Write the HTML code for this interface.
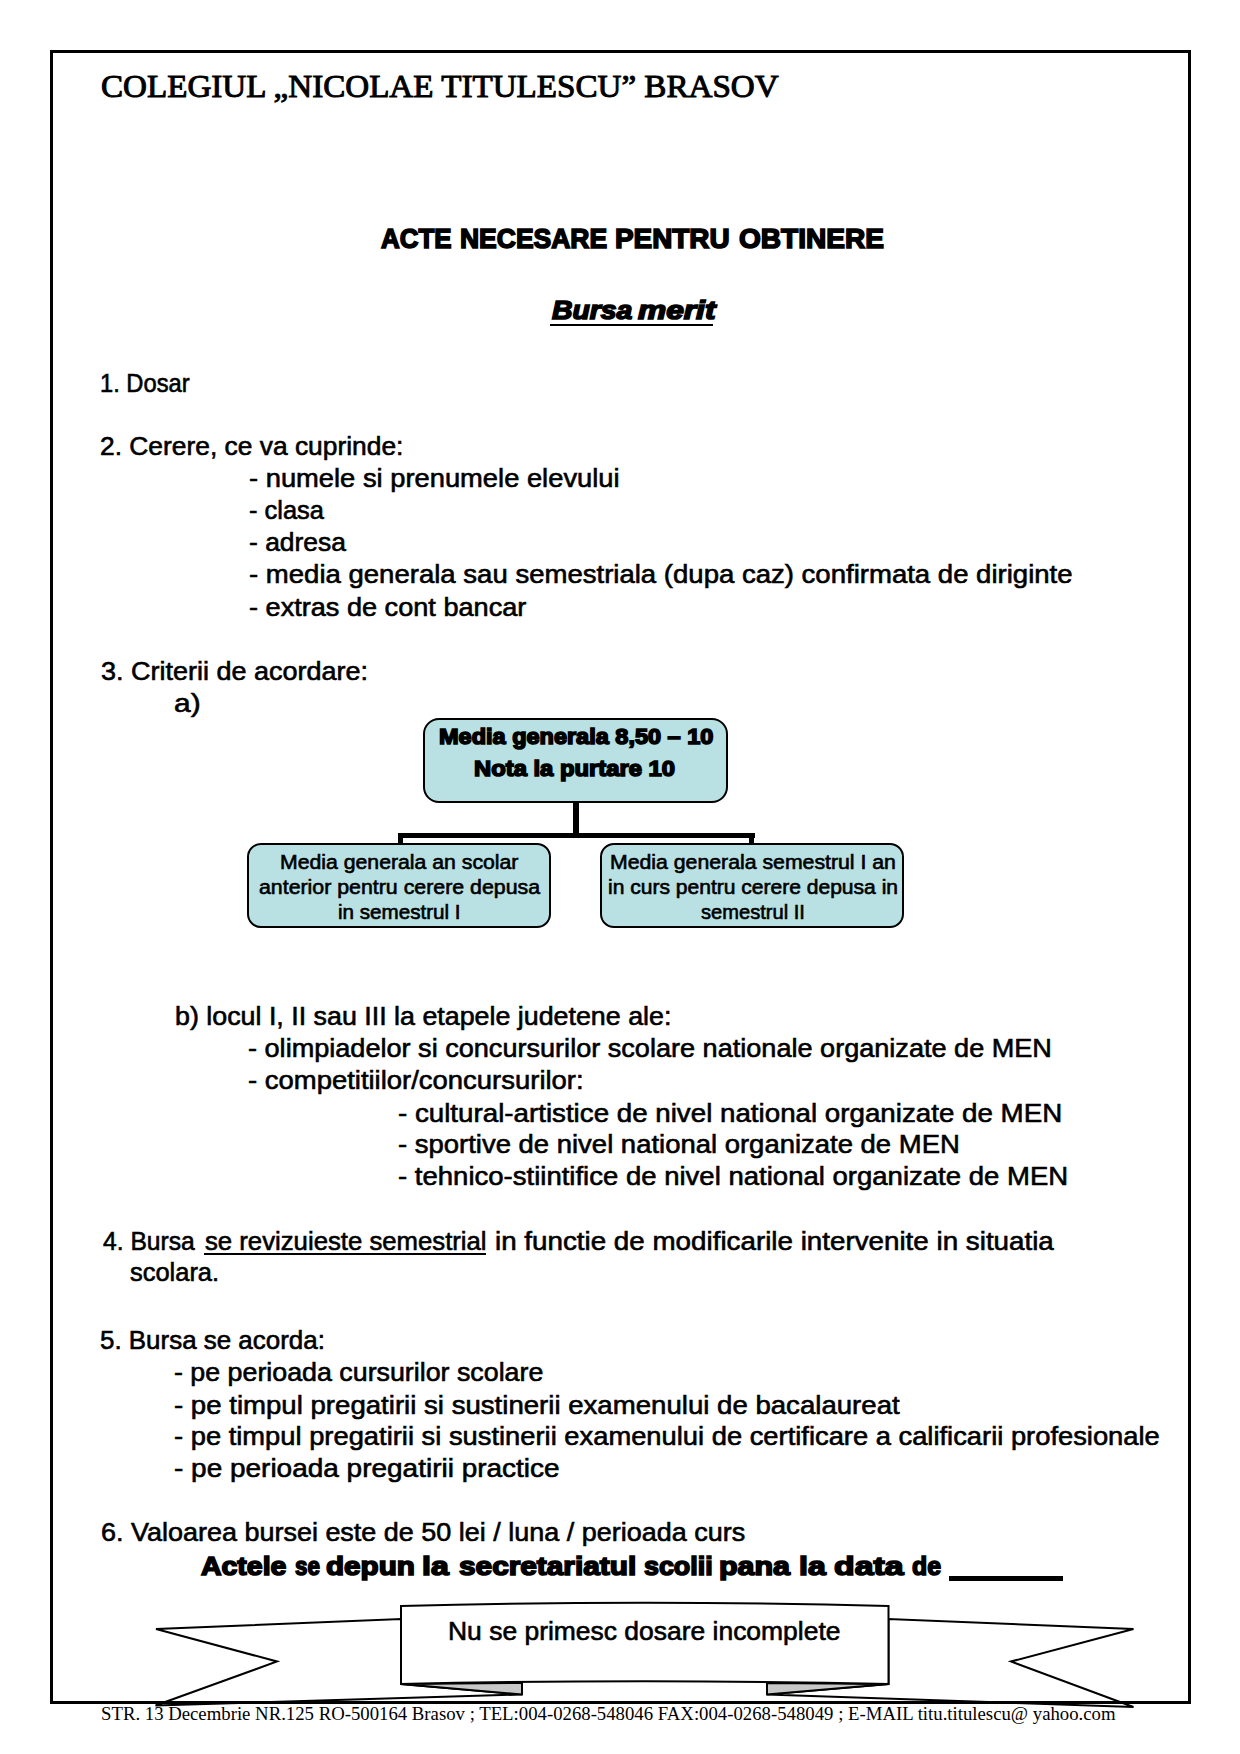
<!DOCTYPE html>
<html><head><meta charset="utf-8"><style>
html,body{margin:0;padding:0;background:#fff;}
body{width:1240px;height:1754px;position:relative;overflow:hidden;color:#000;}
.t{position:absolute;white-space:nowrap;line-height:normal;transform-origin:0 0;-webkit-text-stroke:0.6px #000;}
.h{-webkit-text-stroke:1.6px #000;}
.s{-webkit-text-stroke:0;}
.hs{-webkit-text-stroke:1px #000;}
</style></head><body>
<div style="position:absolute;left:423px;top:718px;width:301px;height:81px;border:2px solid #000;border-radius:16px;background:#b9e0e3;"></div>
<div style="position:absolute;left:247px;top:843px;width:300px;height:81px;border:2px solid #000;border-radius:14px;background:#b9e0e3;"></div>
<div style="position:absolute;left:600px;top:843px;width:300px;height:81px;border:2px solid #000;border-radius:14px;background:#b9e0e3;"></div>
<div style="position:absolute;left:573px;top:802px;width:6px;height:36px;background:#000;"></div>
<div style="position:absolute;left:398px;top:833px;width:357px;height:5px;background:#000;"></div>
<div style="position:absolute;left:398px;top:833px;width:5px;height:11px;background:#000;"></div>
<div style="position:absolute;left:749px;top:833px;width:5px;height:11px;background:#000;"></div>
<svg style="position:absolute;left:0;top:0" width="1240" height="1754" viewBox="0 0 1240 1754">
<g stroke="#000" stroke-width="2" stroke-linejoin="miter" stroke-miterlimit="6">
<path d="M156,1629 L401,1619 L401,1684 L522,1694.5 L155.5,1705.5 L277,1661.5 Z" fill="#fff"/>
<path d="M401,1684 L522,1683 L522,1694.5 Z" fill="#c8c8c8"/>
<path d="M1133.5,1629 L888.5,1619 L888.5,1684 L767,1694.5 L1133.5,1707 L1011,1661.5 Z" fill="#fff"/>
<path d="M888.5,1684 L767,1683 L767,1694.5 Z" fill="#c8c8c8"/>
<path d="M401,1606 Q645,1599.5 888.5,1606 L888.5,1684 Q645,1678.5 401,1684 Z" fill="#fff"/>
</g>
</svg>
<div style="position:absolute;left:550px;top:324px;width:163px;height:2px;background:#000;"></div>
<div style="position:absolute;left:204px;top:1253px;width:282px;height:2px;background:#000;"></div>
<div style="position:absolute;left:949px;top:1576px;width:114px;height:5px;background:#000;"></div>

<div style="position:absolute;left:50px;top:50px;width:1135px;height:1648px;border:3px solid #000;"></div>

<div class="t hs" style="left:100.97px;top:67.80px;font-family:'Liberation Serif', serif;font-size:32px;font-weight:normal;font-style:normal;transform:scaleX(1.0345)">COLEGIUL „NICOLAE TITULESCU” BRASOV</div>
<div class="t h" style="left:380.50px;top:222.90px;font-family:'Liberation Sans', sans-serif;font-size:27.5px;font-weight:bold;font-style:normal;transform:scaleX(0.9421)">ACTE</div>
<div class="t h" style="left:460.24px;top:222.90px;font-family:'Liberation Sans', sans-serif;font-size:27.5px;font-weight:bold;font-style:normal;transform:scaleX(0.9626)">NECESARE</div>
<div class="t h" style="left:615.39px;top:222.90px;font-family:'Liberation Sans', sans-serif;font-size:27.5px;font-weight:bold;font-style:normal;transform:scaleX(1.0135)">PENTRU</div>
<div class="t h" style="left:738.58px;top:222.90px;font-family:'Liberation Sans', sans-serif;font-size:27.5px;font-weight:bold;font-style:normal;transform:scaleX(1.0202)">OBTINERE</div>
<div class="t h" style="left:552.30px;top:295.40px;font-family:'Liberation Sans', sans-serif;font-size:26px;font-weight:bold;font-style:italic;transform:scaleX(1.0896)">Bursa</div>
<div class="t h" style="left:637.90px;top:295.40px;font-family:'Liberation Sans', sans-serif;font-size:26px;font-weight:bold;font-style:italic;transform:scaleX(1.2184)">merit</div>
<div class="t" style="left:100.17px;top:368.90px;font-family:'Liberation Sans', sans-serif;font-size:25.5px;font-weight:normal;font-style:normal;transform:scaleX(0.9293)">1. Dosar</div>
<div class="t" style="left:100.07px;top:432.20px;font-family:'Liberation Sans', sans-serif;font-size:25.5px;font-weight:normal;font-style:normal;transform:scaleX(1.0341)">2. Cerere, ce va cuprinde:</div>
<div class="t" style="left:248.63px;top:464.40px;font-family:'Liberation Sans', sans-serif;font-size:25.5px;font-weight:normal;font-style:normal;transform:scaleX(1.0715)">- numele si prenumele elevului</div>
<div class="t" style="left:248.70px;top:496.20px;font-family:'Liberation Sans', sans-serif;font-size:25.5px;font-weight:normal;font-style:normal;transform:scaleX(0.9984)">- clasa</div>
<div class="t" style="left:248.66px;top:528.30px;font-family:'Liberation Sans', sans-serif;font-size:25.5px;font-weight:normal;font-style:normal;transform:scaleX(1.0368)">- adresa</div>
<div class="t" style="left:248.62px;top:560.40px;font-family:'Liberation Sans', sans-serif;font-size:25.5px;font-weight:normal;font-style:normal;transform:scaleX(1.0800)">- media generala sau semestriala (dupa caz) confirmata de diriginte</div>
<div class="t" style="left:248.64px;top:592.80px;font-family:'Liberation Sans', sans-serif;font-size:25.5px;font-weight:normal;font-style:normal;transform:scaleX(1.0633)">- extras de cont bancar</div>
<div class="t" style="left:100.90px;top:657.20px;font-family:'Liberation Sans', sans-serif;font-size:25.5px;font-weight:normal;font-style:normal;transform:scaleX(1.0588)">3. Criterii de acordare:</div>
<div class="t" style="left:174.03px;top:688.70px;font-family:'Liberation Sans', sans-serif;font-size:25.5px;font-weight:normal;font-style:normal;transform:scaleX(1.1743)">a)</div>
<div class="t h" style="left:438.73px;top:724.40px;font-family:'Liberation Sans', sans-serif;font-size:22px;font-weight:bold;font-style:normal;transform:scaleX(1.0682)">Media generala 8,50 – 10</div>
<div class="t h" style="left:474.12px;top:755.50px;font-family:'Liberation Sans', sans-serif;font-size:22px;font-weight:bold;font-style:normal;transform:scaleX(1.0812)">Nota la purtare 10</div>
<div class="t" style="left:279.71px;top:851.00px;font-family:'Liberation Sans', sans-serif;font-size:19.5px;font-weight:normal;font-style:normal;transform:scaleX(1.0889)">Media generala an scolar</div>
<div class="t" style="left:259.40px;top:875.50px;font-family:'Liberation Sans', sans-serif;font-size:19.5px;font-weight:normal;font-style:normal;transform:scaleX(1.0939)">anterior pentru cerere depusa</div>
<div class="t" style="left:338.34px;top:901.40px;font-family:'Liberation Sans', sans-serif;font-size:19.5px;font-weight:normal;font-style:normal;transform:scaleX(1.0569)">in semestrul I</div>
<div class="t" style="left:609.51px;top:851.00px;font-family:'Liberation Sans', sans-serif;font-size:19.5px;font-weight:normal;font-style:normal;transform:scaleX(1.0900)">Media generala semestrul I an</div>
<div class="t" style="left:607.52px;top:875.50px;font-family:'Liberation Sans', sans-serif;font-size:19.5px;font-weight:normal;font-style:normal;transform:scaleX(1.0788)">in curs pentru cerere depusa in</div>
<div class="t" style="left:700.50px;top:901.40px;font-family:'Liberation Sans', sans-serif;font-size:19.5px;font-weight:normal;font-style:normal;transform:scaleX(1.0306)">semestrul II</div>
<div class="t" style="left:175.45px;top:1001.60px;font-family:'Liberation Sans', sans-serif;font-size:25.5px;font-weight:normal;font-style:normal;transform:scaleX(1.0515)">b) locul I, II sau III la etapele judetene ale:</div>
<div class="t" style="left:248.24px;top:1034.00px;font-family:'Liberation Sans', sans-serif;font-size:25.5px;font-weight:normal;font-style:normal;transform:scaleX(1.0622)">- olimpiadelor si concursurilor scolare nationale organizate de MEN</div>
<div class="t" style="left:248.22px;top:1065.60px;font-family:'Liberation Sans', sans-serif;font-size:25.5px;font-weight:normal;font-style:normal;transform:scaleX(1.0766)">- competitiilor/concursurilor:</div>
<div class="t" style="left:397.61px;top:1098.50px;font-family:'Liberation Sans', sans-serif;font-size:25.5px;font-weight:normal;font-style:normal;transform:scaleX(1.0872)">- cultural-artistice de nivel national organizate de MEN</div>
<div class="t" style="left:397.62px;top:1130.20px;font-family:'Liberation Sans', sans-serif;font-size:25.5px;font-weight:normal;font-style:normal;transform:scaleX(1.0770)">- sportive de nivel national organizate de MEN</div>
<div class="t" style="left:397.62px;top:1162.00px;font-family:'Liberation Sans', sans-serif;font-size:25.5px;font-weight:normal;font-style:normal;transform:scaleX(1.0794)">- tehnico-stiintifice de nivel national organizate de MEN</div>
<div class="t" style="left:102.60px;top:1226.70px;font-family:'Liberation Sans', sans-serif;font-size:25.5px;font-weight:normal;font-style:normal;transform:scaleX(0.9668)">4. Bursa</div>
<div class="t" style="left:204.90px;top:1226.70px;font-family:'Liberation Sans', sans-serif;font-size:25.5px;font-weight:normal;font-style:normal;transform:scaleX(1.0086)">se revizuieste semestrial</div>
<div class="t" style="left:494.51px;top:1226.70px;font-family:'Liberation Sans', sans-serif;font-size:25.5px;font-weight:normal;font-style:normal;transform:scaleX(1.0891)">in functie de modificarile intervenite in situatia</div>
<div class="t" style="left:130.30px;top:1258.10px;font-family:'Liberation Sans', sans-serif;font-size:25.5px;font-weight:normal;font-style:normal;transform:scaleX(0.9977)">scolara.</div>
<div class="t" style="left:100.28px;top:1326.00px;font-family:'Liberation Sans', sans-serif;font-size:25.5px;font-weight:normal;font-style:normal;transform:scaleX(1.0168)">5. Bursa se acorda:</div>
<div class="t" style="left:174.45px;top:1358.30px;font-family:'Liberation Sans', sans-serif;font-size:25.5px;font-weight:normal;font-style:normal;transform:scaleX(1.0508)">- pe perioada cursurilor scolare</div>
<div class="t" style="left:174.42px;top:1390.90px;font-family:'Liberation Sans', sans-serif;font-size:25.5px;font-weight:normal;font-style:normal;transform:scaleX(1.0824)">- pe timpul pregatirii si sustinerii examenului de bacalaureat</div>
<div class="t" style="left:174.43px;top:1422.00px;font-family:'Liberation Sans', sans-serif;font-size:25.5px;font-weight:normal;font-style:normal;transform:scaleX(1.0717)">- pe timpul pregatirii si sustinerii examenului de certificare a calificarii profesionale</div>
<div class="t" style="left:174.40px;top:1454.30px;font-family:'Liberation Sans', sans-serif;font-size:25.5px;font-weight:normal;font-style:normal;transform:scaleX(1.0969)">- pe perioada pregatirii practice</div>
<div class="t" style="left:101.04px;top:1518.30px;font-family:'Liberation Sans', sans-serif;font-size:25.5px;font-weight:normal;font-style:normal;transform:scaleX(1.0576)">6. Valoarea bursei este de 50 lei / luna / perioada curs</div>
<div class="t h" style="left:200.50px;top:1550.60px;font-family:'Liberation Sans', sans-serif;font-size:26px;font-weight:bold;font-style:normal;transform:scaleX(1.0944)">Actele</div>
<div class="t h" style="left:294.60px;top:1550.60px;font-family:'Liberation Sans', sans-serif;font-size:26px;font-weight:bold;font-style:normal;transform:scaleX(0.8609)">se</div>
<div class="t h" style="left:326.26px;top:1550.60px;font-family:'Liberation Sans', sans-serif;font-size:26px;font-weight:bold;font-style:normal;transform:scaleX(1.1392)">depun</div>
<div class="t h" style="left:422.07px;top:1550.60px;font-family:'Liberation Sans', sans-serif;font-size:26px;font-weight:bold;font-style:normal;transform:scaleX(1.2298)">la</div>
<div class="t h" style="left:458.60px;top:1550.60px;font-family:'Liberation Sans', sans-serif;font-size:26px;font-weight:bold;font-style:normal;transform:scaleX(1.1459)">secretariatul</div>
<div class="t h" style="left:643.60px;top:1550.60px;font-family:'Liberation Sans', sans-serif;font-size:26px;font-weight:bold;font-style:normal;transform:scaleX(1.0330)">scolii</div>
<div class="t h" style="left:719.03px;top:1550.60px;font-family:'Liberation Sans', sans-serif;font-size:26px;font-weight:bold;font-style:normal;transform:scaleX(1.1706)">pana</div>
<div class="t h" style="left:798.57px;top:1550.60px;font-family:'Liberation Sans', sans-serif;font-size:26px;font-weight:bold;font-style:normal;transform:scaleX(1.2298)">la</div>
<div class="t h" style="left:833.80px;top:1550.60px;font-family:'Liberation Sans', sans-serif;font-size:26px;font-weight:bold;font-style:normal;transform:scaleX(1.3000)">data</div>
<div class="t h" style="left:912.24px;top:1550.60px;font-family:'Liberation Sans', sans-serif;font-size:26px;font-weight:bold;font-style:normal;transform:scaleX(0.9556)">de</div>
<div class="t" style="left:447.83px;top:1616.70px;font-family:'Liberation Sans', sans-serif;font-size:25.5px;font-weight:normal;font-style:normal;transform:scaleX(1.0371)">Nu se primesc dosare incomplete</div>
<div class="t s" style="left:100.96px;top:1703.80px;font-family:'Liberation Serif', serif;font-size:18px;font-weight:normal;font-style:normal;transform:scaleX(1.0415)">STR. 13 Decembrie NR.125 RO-500164 Brasov ; TEL:004-0268-548046 FAX:004-0268-548049 ; E-MAIL titu.titulescu@ yahoo.com</div>
</body></html>
